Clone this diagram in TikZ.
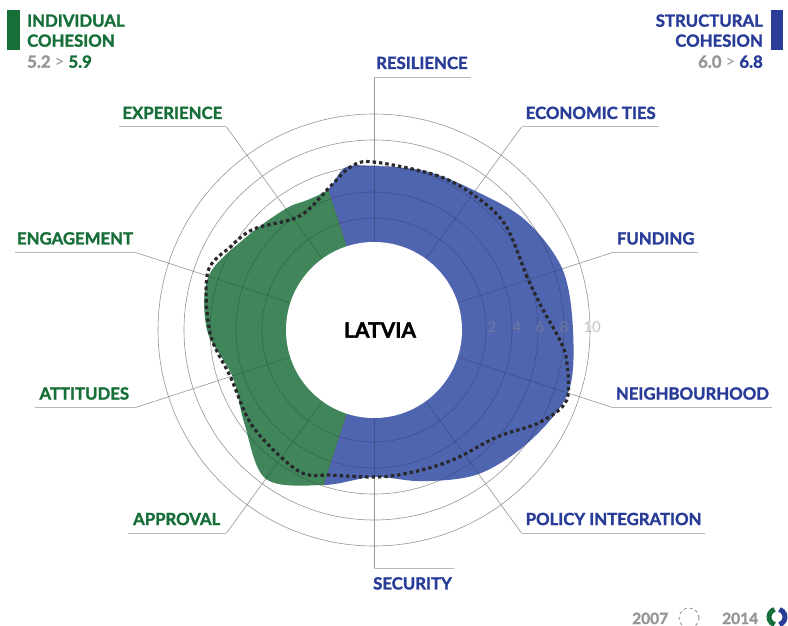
\documentclass[tikz,border=0pt]{standalone}
\usepackage{fontspec}
\setmainfont{Lato}[BoldFeatures={FakeBold=1.6}]
\usetikzlibrary{calc}
\definecolor{gfill}{RGB}{64,134,90}
\definecolor{bfill}{RGB}{80,101,176}
\definecolor{gtext}{RGB}{22,110,56}
\definecolor{btext}{RGB}{40,60,152}
\definecolor{gridc}{RGB}{150,150,150}
\definecolor{numc}{RGB}{150,150,150}
\definecolor{dotc}{RGB}{40,40,45}
\tikzset{
  gridline/.style={draw=gridc, line width=0.6pt},
  innergrid/.style={draw=black, opacity=0.2, line width=0.6pt},
  underln/.style={draw=black!28, line width=0.9pt},
  lab/.style={font=\fontsize{16.75}{18}\selectfont\bfseries, inner sep=0pt},
  glab/.style={lab, text=gtext},
  blab/.style={lab, text=btext},
  hdrgray/.style={font=\fontsize{16.75}{18}\selectfont\bfseries, inner sep=0pt, text=numc},
  numlab/.style={font=\fontsize{15}{16}\selectfont, inner sep=0pt, text=black!45, opacity=0.5},
  dotline/.style={draw=dotc, line width=3.2pt, dash pattern=on 3.4pt off 3pt},
  fillshape/.style={insert path={plot[smooth cycle, tension=0.55] coordinates {
    (0:199pt) (18:198pt) (36:187pt) (54:172pt) (72:167pt) (90:164pt) (100:165pt)
    (108:148pt) (117:146pt) (126:150pt) (144:158pt) (162:174pt) (180:167pt)
    (198:149pt) (216:160pt) (234:184pt) (252:163pt) (270:147pt) (288:159pt)
    (306:178pt) (324:191pt) (342:204pt)}}},
}
\begin{document}
\begin{tikzpicture}[x=1pt,y=-1pt]
\useasboundingbox (0,0) rectangle (788,626);
\fill[white] (0,0) rectangle (788,626);

\begin{scope}[shift={(374,330)}]
  % rings
  \foreach \r in {112,138,164,190,216} {\draw[gridline] (0,0) circle[radius=\r pt];}
  % axis coordinates
  \coordinate (res-i) at (90:88pt);   \coordinate (res-o) at (90:253pt);
  \coordinate (eco-i) at (54:88pt);   \coordinate (eco-o) at (54:251pt);
  \coordinate (fun-i) at (18:88pt);   \coordinate (fun-o) at (18:251pt);
  \coordinate (nei-i) at (-18:88pt);  \coordinate (nei-o) at (-18:251pt);
  \coordinate (pol-i) at (-54:88pt);  \coordinate (pol-o) at (-54:251pt);
  \coordinate (sec-i) at (-90:88pt);  \coordinate (sec-o) at (-90:238pt);
  \coordinate (app-i) at (-126:88pt); \coordinate (app-o) at (-126:251pt);
  \coordinate (att-i) at (-162:88pt); \coordinate (att-o) at (-162:251pt);
  \coordinate (eng-i) at (162:88pt);  \coordinate (eng-o) at (162:251pt);
  \coordinate (exp-i) at (126:88pt);  \coordinate (exp-o) at (126:251pt);
  \foreach \a in {res,eco,fun,nei,pol,sec,app,att,eng,exp} {\draw[gridline] (\a-i) -- (\a-o);}

  % filled 2014 shape
  \begin{scope}
    \clip (0,0) -- (108:400pt) -- (144:400pt) -- (180:400pt) -- (216:400pt) -- (252:400pt) -- cycle;
    \fill[gfill, fillshape];
  \end{scope}
  \begin{scope}
    \clip (0,0) -- (252:400pt) -- (288:400pt) -- (324:400pt) -- (0:400pt) -- (36:400pt) -- (72:400pt) -- (108:400pt) -- cycle;
    \fill[bfill, fillshape];
  \end{scope}
  % darker grid inside the shape
  \begin{scope}
    \clip[fillshape];
    \foreach \r in {112,138,164,190,216} {\draw[innergrid] (0,0) circle[radius=\r pt];}
    \foreach \a in {res,eco,fun,nei,pol,sec,app,att,eng,exp} {\draw[innergrid] (\a-i) -- (\a-o);}
    \draw[innergrid] (0,0) -- (108:260pt);
    \draw[innergrid] (0,0) -- (252:260pt);
  \end{scope}

  % 2007 dotted outline
  \draw[dotline] plot[smooth cycle, tension=0.55] coordinates {
    (7:170pt) (19:162pt) (38:168pt) (51:168pt) (67:167pt) (90:168pt) (98:165pt)
    (107:150pt) (123:136pt) (140:157pt) (150:166pt) (161:176pt) (181:164pt)
    (198:151pt) (219:155pt) (242:160pt) (254:151pt) (270:147pt) (280:147pt)
    (293:149pt) (304:153pt) (319:163pt) (331:190pt) (340:205pt) (351:195pt) (357:186pt)};

  % inner white disc
  \fill[white] (0,0) circle[radius=88pt];
  \node[font=\fontsize{21}{22}\selectfont\bfseries, inner sep=0pt] (latvia) at (6pt,0pt) {LATVIA};
\end{scope}

% scale numbers
\node[numlab] (n2) at (492,327) {2};
\node[numlab] (n4) at (517,327) {4};
\node[numlab] (n6) at (540,327) {6};
\node[numlab] (n8) at (564,327) {8};
\node[numlab] (n10) at (592,327) {10};

% axis labels and leaders
\node[blab, anchor=base west] (res) at ($(res-o)+(2pt,8pt)$) {RESILIENCE};
\draw[underln] (res-o) -- ($(res-o -| res.east)+(3pt,0)$);
\node[blab, anchor=base west] (eco) at ($(eco-o)+(4pt,8pt)$) {ECONOMIC TIES};
\draw[underln] (eco-o) -- ($(eco-o -| eco.east)+(3pt,0)$);
\node[blab, anchor=base west] (fun) at ($(fun-o)+(4pt,8pt)$) {FUNDING};
\draw[underln] (fun-o) -- ($(fun-o -| fun.east)+(3pt,0)$);
\node[blab, anchor=base west] (nei) at ($(nei-o)+(3pt,8pt)$) {NEIGHBOURHOOD};
\draw[underln] (nei-o) -- ($(nei-o -| nei.east)+(3pt,0)$);
\node[blab, anchor=base west] (pol) at ($(pol-o)+(4pt,8pt)$) {POLICY INTEGRATION};
\draw[underln] (pol-o) -- ($(pol-o -| pol.east)+(3pt,0)$);
\node[blab, anchor=north west] (sec) at ($(sec-o)+(-1pt,-9pt)$) {SECURITY};
\draw[underln] (sec-o) -- ($(sec-o -| sec.east)+(2pt,0)$);
\node[glab, anchor=base east] (app) at ($(app-o)+(-6pt,8pt)$) {APPROVAL};
\draw[underln] (app-o) -- ($(app-o -| app.west)+(-5pt,0)$);
\node[glab, anchor=base east] (att) at ($(att-o)+(-6pt,8pt)$) {ATTITUDES};
\draw[underln] (att-o) -- ($(att-o -| att.west)+(-4pt,0)$);
\node[glab, anchor=base east] (eng) at ($(eng-o)+(-2pt,8pt)$) {ENGAGEMENT};
\draw[underln] (eng-o) -- ($(eng-o -| eng.west)+(-2pt,0)$);
\node[glab, anchor=base east] (exp) at ($(exp-o)+(-4pt,8pt)$) {EXPERIENCE};
\draw[underln] (exp-o) -- ($(exp-o -| exp.west)+(-3pt,0)$);

% header left
\fill[gtext] (7,10) rectangle (20,50);
\node[glab, anchor=base west] (ic1) at (27,26.7) {INDIVIDUAL};
\node[glab, anchor=base west] (ic2) at (27,46.7) {COHESION};
\node[hdrgray, anchor=base west] (ic3) at (27,67.7) {5.2 {\mdseries>} \textcolor{gtext}{5.9}};
% header right
\fill[btext] (771,10) rectangle (783,50);
\node[blab, anchor=base east] (sc1) at (763,26.7) {STRUCTURAL};
\node[blab, anchor=base east] (sc2) at (763,46.7) {COHESION};
\node[hdrgray, anchor=base east] (sc3) at (763,67.7) {6.0 {\mdseries>} \textcolor{btext}{6.8}};

% legend
\node[hdrgray, font=\fontsize{15.5}{16}\selectfont\bfseries, anchor=base west] (y07) at (632,624) {2007};
\node[circle, draw=black!45, dashed, line width=0.8pt, minimum size=20pt, inner sep=0pt] (c07) at (689,618) {};
\node[hdrgray, font=\fontsize{15.5}{16}\selectfont\bfseries, anchor=base west] (y14) at (722,624) {2014};
\coordinate (c14) at (777,617);
\draw[gtext, line width=5pt] ($(c14)+(108:8pt)$) arc[start angle=108, end angle=252, radius=8pt];
\draw[btext, line width=5pt] ($(c14)+(-72:8pt)$) arc[start angle=-72, end angle=72, radius=8pt];
\end{tikzpicture}
\end{document}
